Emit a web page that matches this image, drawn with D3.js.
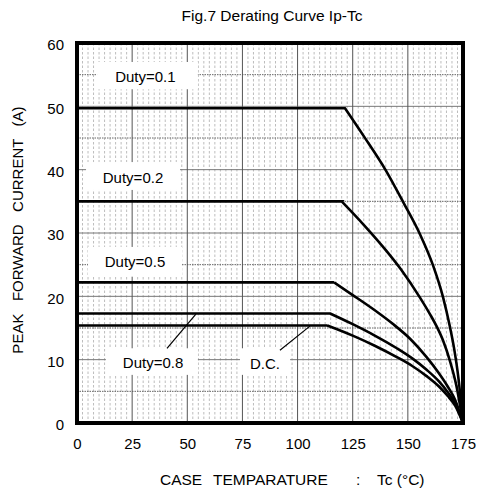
<!DOCTYPE html>
<head>
<meta charset="UTF-8">
<script src="https://d3js.org/d3.v7.min.js"></script>
<style>
  body { margin: 0; background: #fff; }
  text { font-family: "Liberation Sans", Arial, sans-serif; fill: #000; }
</style>
</head>
<body>
<div id="my_dataviz"></div>
<script>

// axis ticks
var tempTicks = [0, 25, 50, 75, 100, 125, 150, 175];
var currentTicks = [0, 10, 20, 30, 40, 50, 60];

// curves: [Tc (C), Ip (A)]
var duty01 = [[0, 49.7], [121.5, 49.7], [130, 45.3], [140, 39.9], [148, 34.8], [155.5, 29.8], [161.5, 24.8], [166, 19.8], [169, 15.3], [171, 11.7], [173, 6.9], [175, 0]];
var duty02 = [[0, 35], [120, 35], [130, 31.3], [140, 27.3], [147, 24.2], [155.5, 19.8], [160, 17.2], [163, 15.3], [166, 13], [169, 9.9], [172, 5.9], [175, 0]];
var duty05 = [[0, 22.2], [116.5, 22.2], [125, 20.2], [135, 17.8], [143, 15.7], [151, 13.3], [158.5, 10.4], [164, 7.9], [168, 5.8], [171.5, 3.6], [175, 0]];
var duty08 = [[0, 17.3], [114.7, 17.3], [125, 15.6], [135, 13.8], [145, 11.8], [152, 10.2], [158.5, 8.4], [164, 6.6], [168, 4.9], [171.5, 3.1], [175, 0]];
var dutyDC = [[0, 15.4], [113.5, 15.4], [125, 13.8], [135, 12.2], [145, 10.4], [152, 9], [158.5, 7.4], [164, 5.8], [168, 4.3], [171.5, 2.7], [175, 0]];

var series = [duty01, duty02, duty05, duty08, dutyDC];

// labels: text, box [T0, T1, I0, I1], text anchor [T, I], leader [T0, I0, T1, I1]
var labelNames = ["Duty=0.1", "Duty=0.2", "Duty=0.5", "Duty=0.8", "D.C."];
var labelBoxes = [[9.1, 54.8, 52.7, 57], [4.1, 46.7, 36.8, 41.2], [5, 47.6, 23.1, 27.8], [13.1, 54.8, 7.6, 11.8], [73.9, 96.6, 7.6, 11.8]];
var labelAnchors = [[31, 53.8], [25.4, 37.9], [26.3, 24.6], [34.5, 8.7], [85.2, 8.5]];
var leaders = [null, null, null, [40.8, 11.8, 53.9, 17.2], [92, 11.5, 105.6, 15.3]];

var margin = {top: 43, right: 14, bottom: 71, left: 77},
  width = 477 - margin.left - margin.right,
  height = 494 - margin.top - margin.bottom;

var root = d3.select("#my_dataviz")
.append("svg")
  .attr("width", 477)
  .attr("height", 494);

var svg = root.append("g")
  .attr("transform", "translate(" + margin.left + "," + margin.top + ")");

var x = d3.scaleLinear().domain([0, 175]).range([0, width]);
var y = d3.scaleLinear().domain([0, 60]).range([height, 0]);

// minor vertical grid every 2.5
var minorT = d3.range(1, 70).map(function(i) { return i * 2.5; })
  .filter(function(t) { return t % 25 != 0; });
svg.selectAll(".vminor")
  .data(minorT)
  .enter()
  .append("line")
    .attr("x1", function(d) { return x(d); })
    .attr("x2", function(d) { return x(d); })
    .attr("y1", 0)
    .attr("y2", height)
    .style("stroke", "#bdbdbd")
    .style("stroke-width", 1)
    .style("stroke-dasharray", "2.5,2");

// horizontal grid: every 10 solid, 5s dotted
var hLines = d3.range(5, 60, 5);
svg.selectAll(".hgrid")
  .data(hLines)
  .enter()
  .append("line")
    .attr("x1", 0)
    .attr("x2", width)
    .attr("y1", function(d) { return y(d); })
    .attr("y2", function(d) { return y(d); })
    .style("stroke", function(d) { return d % 10 == 0 ? "#777" : "#666"; })
    .style("stroke-width", 1)
    .style("stroke-dasharray", function(d) { return d % 10 == 0 ? null : "1.5,1"; });

// major vertical grid
svg.selectAll(".vmajor")
  .data(tempTicks.slice(1, -1))
  .enter()
  .append("line")
    .attr("x1", function(d) { return x(d); })
    .attr("x2", function(d) { return x(d); })
    .attr("y1", 0)
    .attr("y2", height)
    .style("stroke", "#555")
    .style("stroke-width", 1);

// white boxes behind labels
svg.selectAll(".lbox")
  .data(labelBoxes)
  .enter()
  .append("rect")
    .attr("x", function(d) { return x(d[0]); })
    .attr("y", function(d) { return y(d[3]); })
    .attr("width", function(d) { return x(d[1]) - x(d[0]); })
    .attr("height", function(d) { return y(d[2]) - y(d[3]); })
    .style("fill", "#fff");

// leader lines
svg.selectAll(".leader")
  .data(leaders.filter(function(d) { return d; }))
  .enter()
  .append("line")
    .attr("x1", function(d) { return x(d[0]); })
    .attr("y1", function(d) { return y(d[1]); })
    .attr("x2", function(d) { return x(d[2]); })
    .attr("y2", function(d) { return y(d[3]); })
    .style("stroke", "#000")
    .style("stroke-width", 1.2);

svg.selectAll(".lbl")
  .data(labelNames)
  .enter()
  .append("text")
    .attr("x", function(d, i) { return x(labelAnchors[i][0]); })
    .attr("y", function(d, i) { return y(labelAnchors[i][1]); })
    .attr("text-anchor", "middle")
    .style("font-size", "15px")
    .text(function(d) { return d; });

// curves: flat part straight, falling part smooth
var flat = d3.line()
  .x(function(d) { return x(d[0]); })
  .y(function(d) { return y(d[1]); });
var drop = d3.line()
  .curve(d3.curveMonotoneX)
  .x(function(d) { return x(d[0]); })
  .y(function(d) { return y(d[1]); });

series.forEach(function(s) {
  svg.append("path")
    .attr("d", flat(s.slice(0, 2)) + drop(s.slice(1)).replace(/^M[^CL]*/, "L" + x(s[1][0]) + "," + y(s[1][1])))
    .style("fill", "none")
    .style("stroke", "#000")
    .style("stroke-width", 2.6)
    .style("stroke-linejoin", "miter");
});

// frame
svg.append("rect")
  .attr("x", 0)
  .attr("y", 0)
  .attr("width", width)
  .attr("height", height)
  .style("fill", "none")
  .style("stroke", "#000")
  .style("stroke-width", 4);

// axes
svg.append("g")
  .style("font-size", "15px")
  .call(d3.axisLeft(y).tickValues(currentTicks).tickSize(0).tickPadding(13))
  .call(function(g) { g.select(".domain").remove(); })
  .selectAll("text")
    .attr("dy", "0.45em")
    .style("font-family", "Liberation Sans, Arial, sans-serif")
    .style("fill", "#000");

svg.append("g")
  .attr("transform", "translate(0," + height + ")")
  .style("font-size", "15px")
  .call(d3.axisBottom(x).tickValues(tempTicks).tickSize(0).tickPadding(15))
  .call(function(g) { g.select(".domain").remove(); })
  .selectAll("text")
    .style("font-family", "Liberation Sans, Arial, sans-serif")
    .style("fill", "#000");

// title
root.append("text")
  .attr("x", 272)
  .attr("y", 21)
  .attr("text-anchor", "middle")
  .style("font-size", "15.5px")
  .text("Fig.7 Derating Curve Ip-Tc");

// axis titles
var xTitle = root.append("text")
  .attr("y", 485)
  .style("font-size", "15.5px");
[["CASE", 160], ["TEMPARATURE", 213], [":", 356], ["Tc (\u00b0C)", 377]].forEach(function(p) {
  xTitle.append("tspan").attr("x", p[1]).text(p[0]);
});

root.append("text")
  .attr("transform", "translate(23,230) rotate(-90)")
  .attr("text-anchor", "middle")
  .style("font-size", "15px")
  .style("white-space", "pre")
  .text("PEAK   FORWARD   CURRENT   (A)");

</script>
</body>
